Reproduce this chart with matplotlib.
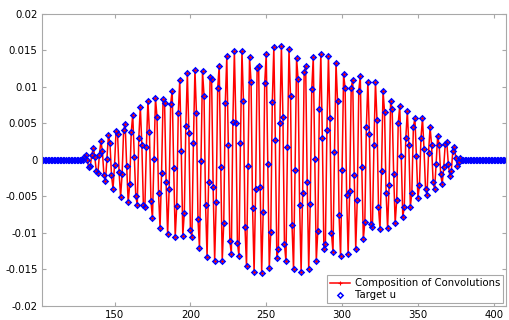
import numpy as np
import matplotlib
matplotlib.use("Agg")
import matplotlib.pyplot as plt

##########################################
# Data (values in units of 1e-3)
x_first = 102
x_last = 408
active_first = 130

active_vals = [
    0.34, 0.62, 0.0, -1.03, -0.85, 0.66, 1.62, 0.43, -1.58, -1.85,      # 130-139
    0.62, 2.58, 1.17, -2.08, -2.95, 0.16, 3.41, 2.26, -2.13, -3.99,     # 140-149
    -0.66, 3.91, 3.54, -1.67, -5.05, -1.90, 4.09, 4.91, -0.85, -5.83,   # 150-159
    -3.31, 3.77, 6.19, 0.43, -4.91, -6.19, 2.99, 7.29, 2.08, -6.15,     # 160-169
    -6.51, 1.81, 8.07, 3.86, -5.64, -8.02, 0.11, 8.48, 5.83, -4.59,     # 170-179
    -9.30, -1.80, 8.30, 7.75, -3.09, -10.17, -4.00, 7.66, 9.49, -1.12,  # 180-189
    -10.54, -6.29, 6.38, 10.95, 1.21, -10.40, -7.27, 4.59, 11.91, 3.73, # 190-199
    -9.62, -10.54, 2.31, 12.36, 6.38, -8.11, -12.09, -0.21, 12.14, 8.80,  # 200-209
    -6.20, -13.28, -3.04, 11.40, 11.04, -3.77, -13.83, -5.83, 9.85, 12.91,  # 210-219
    -1.03, -13.83, -8.66, 7.75, 14.20, 2.03, -11.08, -12.91, 5.23, 14.88,  # 220-229
    5.10, -11.40, -13.14, 2.31, 14.88, 8.02, -9.26, -14.60, -0.85, 14.10,  # 230-239
    10.67, -6.65, -15.43, -4.05, 12.59, 12.87, -3.73, -15.47, -7.11, 10.54,  # 240-249
    14.47, -0.53, -14.83, -9.85, 7.93, 15.43, 2.77, -13.51, -12.23, 5.01,  # 250-259
    15.61, 5.92, -11.50, -13.92, 1.81, 15.15, 8.71, -8.98, -15.01, -1.39,  # 260-269
    13.92, 11.08, -6.15, -15.33, -4.55, 12.04, 12.82, -2.99, -14.97, -6.06,  # 270-279
    9.67, 14.06, 0.07, -13.87, -9.71, 7.02, 14.47, 3.04, -12.23, -11.54,  # 280-289
    4.09, 14.19, 5.74, -10.03, -12.68, 1.12, 13.28, 8.07, -7.52, -13.19,  # 290-299
    -1.35, 11.73, 9.81, -4.82, -12.91, -4.23, 9.81, 11.00, -2.08, -12.2,  # 300-309
    -5.5, 9.5, 11.5, -1.0, -10.9, -8.5, 4.5, 10.7, 3.5, -8.8,           # 310-319
    -9.2, 2.0, 10.7, 5.5, -6.5, -9.5, -1.5, 9.5, 6.5, -4.5,             # 320-329
    -9.4, -3.5, 8.1, 7.0, -2.0, -8.7, -5.5, 5.0, 7.4, 0.5,              # 330-339
    -7.8, -6.5, 3.0, 6.7, 2.0, -6.4, -4.5, 4.5, 5.7, 0.5,               # 340-349
    -5.2, -3.5, 3.0, 5.7, 1.5, -4.0, -4.8, 1.0, 4.5, 2.0,               # 350-359
    -3.0, -4.0, -0.5, 3.3, 2.0, -2.0, -3.3, -1.0, 2.2, 2.5,             # 360-369
    -0.5, -2.2, -1.5, 1.2, 1.8, 0.2, -0.8, -0.3, 0.2,                   # 370-378
]

x = np.arange(x_first, x_last + 1)
n_lead = active_first - x_first
n_tail = len(x) - n_lead - len(active_vals)
target_u = np.array([0.0] * n_lead + active_vals + [0.0] * n_tail) * 1e-3
composition = target_u.copy()

y_ticks = [-0.02, -0.015, -0.01, -0.005, 0, 0.005, 0.01, 0.015, 0.02]
y_labels = ["-0.02", "-0.015", "-0.01", "-0.005", "0", "0.005", "0.01", "0.015", "0.02"]
x_ticks = [150, 200, 250, 300, 350, 400]

##########################################
# Plot
plt.rcParams["font.family"] = "DejaVu Sans"
plt.rcParams["font.size"] = 7.3

fig = plt.figure(figsize=(5.1, 3.2), dpi=100)
ax = fig.add_axes([0.0818, 0.0447, 0.9102, 0.9115])

ax.plot(x, composition, color="red", linestyle="-", linewidth=1.1,
        marker="+", markersize=3, markeredgewidth=0.8,
        label="Composition of Convolutions")
ax.plot(x, target_u, linestyle="none", marker="D", markersize=2.7,
        markerfacecolor="none", markeredgecolor="blue", markeredgewidth=1.1,
        label="Target u")

ax.set_xlim(102, 408)
ax.set_ylim(-0.02, 0.02)
ax.set_xticks(x_ticks)
ax.set_yticks(y_ticks)
ax.set_yticklabels(y_labels)

for s in ax.spines.values():
    s.set_color("#a8a8a8")
    s.set_linewidth(0.8)
ax.tick_params(direction="in", length=3, color="#a8a8a8", labelcolor="black",
               top=True, right=True, labelsize=7.3, pad=3)

leg = ax.legend(loc="lower right", fancybox=False, framealpha=1,
                edgecolor="#a8a8a8", borderaxespad=0.25, handlelength=2.0,
                borderpad=0.3, labelspacing=0.2, handletextpad=0.5)
leg.get_frame().set_linewidth(0.8)

fig.savefig("out.png", dpi=100)
